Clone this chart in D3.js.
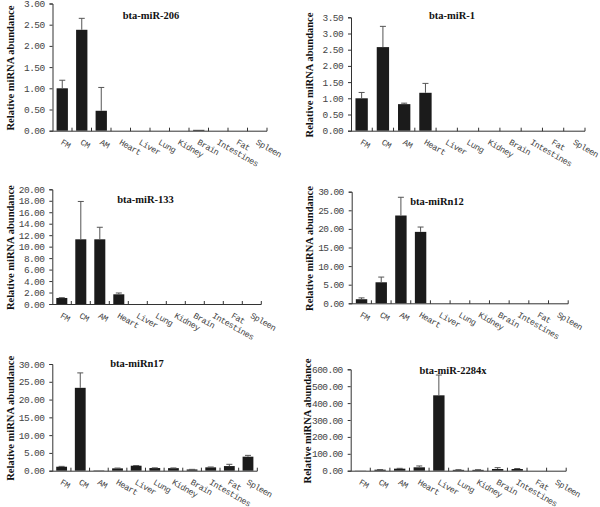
<!DOCTYPE html>
<html><head><meta charset="utf-8">
<script src="https://cdn.jsdelivr.net/npm/d3@7"></script>
<style>body{margin:0;background:#fff}</style>
</head><body><svg id="c" width="600" height="507"></svg>
<script>
const categories = ["FM","CM","AM","Heart","Liver","Lung","Kidney","Brain","Intestines","Fat","Spleen"];

const valsMiR206 = [1.00, 2.38, 0.47, 0, 0, 0, 0, 0.02, 0, 0, 0];
const errMiR206  = [0.19, 0.27, 0.55, 0, 0, 0, 0, 0, 0, 0, 0];
const ticksMiR206 = [0, 0.5, 1, 1.5, 2, 2.5, 3];

const valsMiR1 = [1.00, 2.58, 0.82, 1.17, 0, 0, 0, 0, 0, 0, 0];
const errMiR1  = [0.18, 0.64, 0.03, 0.29, 0, 0, 0, 0, 0, 0, 0];
const ticksMiR1 = [0, 0.5, 1, 1.5, 2, 2.5, 3, 3.5];

const valsMiR133 = [1.05, 11.28, 11.28, 1.69, 0, 0, 0, 0, 0, 0, 0];
const errMiR133  = [0.05, 6.6, 2.1, 0.23, 0, 0, 0, 0, 0, 0, 0];
const ticksMiR133 = [0, 2, 4, 6, 8, 10, 12, 14, 16, 18, 20];

const valsMiRn12 = [1.1, 5.65, 23.6, 19.2, 0, 0, 0, 0, 0, 0, 0];
const errMiRn12  = [0.35, 1.4, 4.9, 1.3, 0, 0, 0, 0, 0, 0, 0];
const ticksMiRn12 = [0, 5, 10, 15, 20, 25, 30];

const valsMiRn17 = [1.12, 23.3, 0.1, 0.66, 1.4, 0.75, 0.72, 0.35, 0.94, 1.3, 3.94];
const errMiRn17  = [0.1, 4.2, 0, 0.08, 0.05, 0.05, 0.05, 0.03, 0.1, 0.5, 0.37];
const ticksMiRn17 = [0, 5, 10, 15, 20, 25, 30];

const valsMiR2284x = [1, 6, 12, 20, 446, 5, 5, 10, 10, 0, 0];
const errMiR2284x  = [0, 1, 2, 8, 120, 1, 1, 8, 3, 0, 0];
const ticksMiR2284x = [0, 100, 200, 300, 400, 500, 600];

const panels = [
  {title:"bta-miR-206", values:valsMiR206, errors:errMiR206, ticks:ticksMiR206,
   left:52.5, top:3.5, bottom:130.7, width:214.5, titleX:151, titleY:19, yTitleX:10},
  {title:"bta-miR-1", values:valsMiR1, errors:errMiR1, ticks:ticksMiR1,
   left:351, top:17.3, bottom:130.7, width:234, titleX:452, titleY:19, yTitleX:309},
  {title:"bta-miR-133", values:valsMiR133, errors:errMiR133, ticks:ticksMiR133,
   left:52.3, top:189.3, bottom:304, width:209, titleX:145.5, titleY:203, yTitleX:10},
  {title:"bta-miRn12", values:valsMiRn12, errors:errMiRn12, ticks:ticksMiRn12,
   left:351.7, top:191.7, bottom:303.3, width:216.5, titleX:437, titleY:205, yTitleX:309},
  {title:"bta-miRn17", values:valsMiRn17, errors:errMiRn17, ticks:ticksMiRn17,
   left:52.3, top:364, bottom:470.7, width:205, titleX:137, titleY:367, yTitleX:10},
  {title:"bta-miR-2284x", values:valsMiR2284x, errors:errMiR2284x, ticks:ticksMiR2284x,
   left:350.7, top:369.3, bottom:470.7, width:215.5, titleX:453, titleY:374, yTitleX:307}
];

const svg = d3.select("#c");
const fmt = d3.format(".2f");

panels.forEach(p => {
  const g = svg.append("g");
  const x = d3.scaleBand().domain(categories)
    .range([p.left, p.left + p.width]).paddingInner(0.42).paddingOuter(0.21);
  const y = d3.scaleLinear().domain([0, p.ticks[p.ticks.length - 1]])
    .range([p.bottom, p.top]);

  g.selectAll("rect.bar").data(categories).join("rect")
    .attr("x", d => x(d))
    .attr("width", x.bandwidth())
    .attr("y", (d, i) => y(p.values[i]))
    .attr("height", (d, i) => Math.max(0, p.bottom - y(p.values[i])))
    .attr("fill", "#1b1b1b");

  const eb = categories.map((c, i) => ({c, v:p.values[i], e:p.errors[i]})).filter(d => d.e > 0);
  g.selectAll("line.err").data(eb).join("line")
    .attr("x1", d => x(d.c) + x.bandwidth()/2).attr("x2", d => x(d.c) + x.bandwidth()/2)
    .attr("y1", d => y(d.v)).attr("y2", d => y(d.v + d.e))
    .attr("stroke", "#555").attr("stroke-width", 1);
  g.selectAll("line.cap").data(eb).join("line")
    .attr("x1", d => x(d.c) + x.bandwidth()/2 - 3).attr("x2", d => x(d.c) + x.bandwidth()/2 + 3)
    .attr("y1", d => y(d.v + d.e)).attr("y2", d => y(d.v + d.e))
    .attr("stroke", "#555").attr("stroke-width", 1);

  const ya = g.append("g").attr("transform", `translate(${p.left},0)`)
    .call(d3.axisLeft(y).tickValues(p.ticks).tickFormat(fmt).tickSize(3).tickPadding(5));
  ya.select(".domain").attr("stroke", "#333");
  ya.selectAll(".tick line").attr("stroke", "#333");
  ya.selectAll(".tick text").attr("font-family", "Liberation Mono, monospace")
    .attr("font-size", 9.5).attr("letter-spacing", -0.6).attr("fill", "#444");

  const step = x.step();
  const bounds = d3.range(0, categories.length + 1).map(k => p.left + k * step);
  g.append("line").attr("x1", p.left).attr("x2", p.left + p.width)
    .attr("y1", p.bottom + 0.5).attr("y2", p.bottom + 0.5).attr("stroke", "#333");
  g.selectAll("line.xt").data(bounds.slice(1)).join("line")
    .attr("x1", d => d).attr("x2", d => d)
    .attr("y1", p.bottom - 3).attr("y2", p.bottom + 0.5).attr("stroke", "#333");

  g.selectAll("text.xl").data(categories).join("text")
    .attr("transform", d => `translate(${x(d) + x.bandwidth()/2 + 1},${p.bottom + 8}) rotate(30)`)
    .attr("dy", "0.7em")
    .attr("font-family", "Liberation Mono, monospace").attr("font-size", 8.5)
    .attr("letter-spacing", -0.5).attr("fill", "#444")
    .text(d => d);

  g.append("text").attr("x", p.titleX).attr("y", p.titleY).attr("text-anchor", "middle")
    .attr("font-family", "Liberation Serif, Times New Roman, serif").attr("font-weight", "bold")
    .attr("font-size", 10.5).attr("fill", "#111").text(p.title);

  g.append("text")
    .attr("transform", `translate(${p.yTitleX},${(p.top + p.bottom)/2 + 1}) rotate(-90)`)
    .attr("text-anchor", "middle").attr("dominant-baseline", "central")
    .attr("font-family", "Liberation Serif, Times New Roman, serif").attr("font-weight", "bold")
    .attr("font-size", 10.5).attr("fill", "#111").text("Relative miRNA abundance");
});
</script></body></html>
